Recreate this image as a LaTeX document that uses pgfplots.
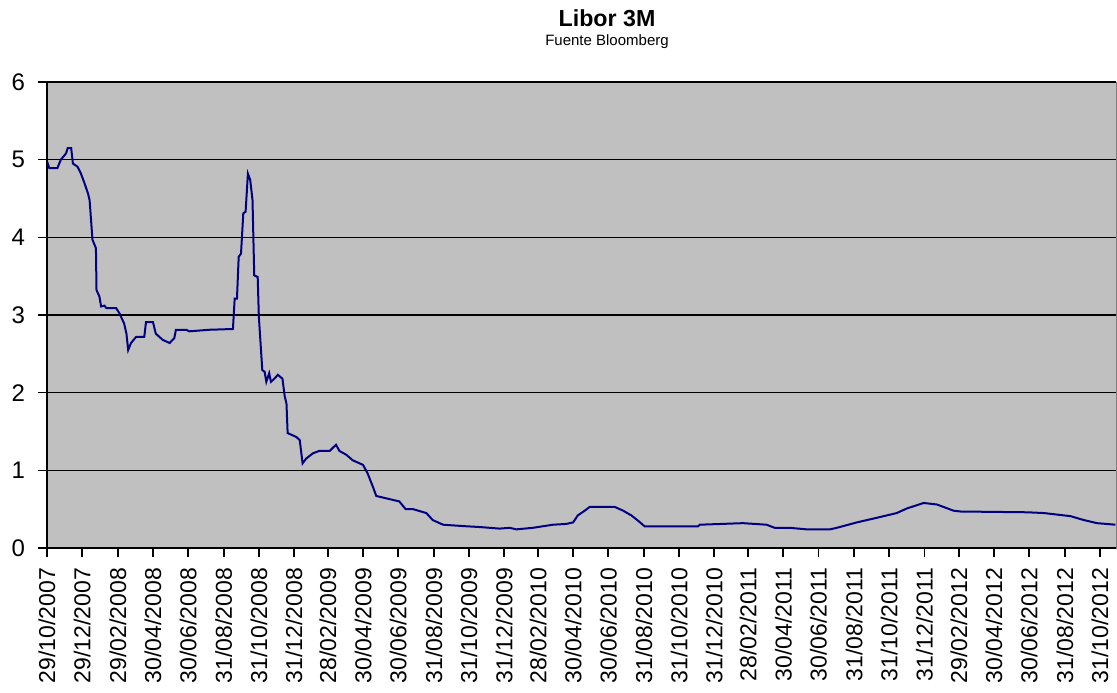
\documentclass[border=0pt]{standalone}
\usepackage{fontspec}
\setmainfont{Liberation Sans}
\usepackage{pgfplots}
\pgfplotsset{compat=1.18}
\definecolor{plotgray}{HTML}{C0C0C0}
\definecolor{navy}{HTML}{000080}
\begin{document}
\begin{tikzpicture}
\begin{axis}[
    scale only axis,
    width=534.5pt, height=233pt,
    xmin=0, xmax=1857,
    ymin=0, ymax=6,
    ytick={0,1,2,3,4,5,6},
    xtick={0,61,123,184,245,307,368,429,488,549,610,672,733,794,853,914,975,1037,1098,1159,1218,1279,1340,1402,1463,1524,1584,1645,1706,1768,1829},
    xticklabels={29/10/2007,29/12/2007,29/02/2008,30/04/2008,30/06/2008,31/08/2008,31/10/2008,31/12/2008,28/02/2009,30/04/2009,30/06/2009,31/08/2009,31/10/2009,31/12/2009,28/02/2010,30/04/2010,30/06/2010,31/08/2010,31/10/2010,31/12/2010,28/02/2011,30/04/2011,30/06/2011,31/08/2011,31/10/2011,31/12/2011,29/02/2012,30/04/2012,30/06/2012,31/08/2012,31/10/2012},
    xticklabel style={rotate=90, anchor=east, font=\fontsize{11.5}{12}\selectfont},
    xticklabel shift=2pt,
    yticklabel style={font=\fontsize{12}{13}\selectfont, xshift=-3pt},
    /pgf/number format/assume math mode=true,
    axis lines*=left,
    axis line style={black, line width=0.8pt, -},
    x axis line style={line width=1.3pt},
    axis background/.style={fill=plotgray, draw=gray},
    ymajorgrids,
    grid style={black, line width=0.6pt},
    tick align=outside,
    major tick length=4.5pt,
    tick style={black, line width=0.8pt},
]
\addplot[color=navy, line width=1pt] coordinates {
(0,4.98) (4,4.89) (18,4.89) (24,5.00) (33,5.08) (36,5.15) (42,5.15) (45,4.95)
(53,4.91) (59,4.82) (65,4.70) (71,4.57) (74,4.48) (79,3.97) (85,3.86) (86,3.32)
(91,3.24) (94,3.11) (100,3.12) (103,3.09) (120,3.09) (126,3.02) (134,2.89) (138,2.76)
(141,2.55) (146,2.64) (155,2.72) (169,2.72) (172,2.91) (184,2.91) (189,2.76) (201,2.68)
(213,2.64) (221,2.70) (224,2.81) (242,2.81) (247,2.79) (282,2.81) (323,2.82) (326,3.21)
(330,3.21) (333,3.75) (337,3.79) (341,4.31) (345,4.33) (349,4.82) (353,4.74) (357,4.48)
(360,3.51) (366,3.49) (368,2.98) (374,2.29) (378,2.27) (381,2.14) (386,2.25) (389,2.14)
(395,2.18) (401,2.23) (409,2.18) (413,1.95) (416,1.86) (418,1.48) (433,1.43) (439,1.39)
(444,1.09) (450,1.15) (462,1.22) (473,1.25) (491,1.25) (502,1.33) (508,1.25) (520,1.20)
(531,1.13) (549,1.07) (557,0.96) (566,0.79) (572,0.67) (589,0.64) (612,0.60) (623,0.50)
(636,0.50) (659,0.45) (670,0.36) (688,0.30) (728,0.28) (752,0.27) (786,0.25) (804,0.26)
(815,0.24) (844,0.26) (879,0.30) (902,0.31) (914,0.33) (922,0.42) (934,0.48) (943,0.53)
(986,0.53) (1001,0.48) (1015,0.42) (1027,0.35) (1038,0.28) (1131,0.28) (1134,0.30) (1209,0.32)
(1250,0.30) (1264,0.26) (1290,0.26) (1320,0.24) (1360,0.24) (1372,0.26) (1407,0.33) (1442,0.39)
(1476,0.45) (1494,0.51) (1523,0.58) (1546,0.56) (1575,0.48) (1587,0.47) (1703,0.46) (1732,0.45)
(1778,0.41) (1801,0.36) (1824,0.32) (1856,0.30)
};
\end{axis}
\node[font=\bfseries\fontsize{11.6}{13}\selectfont] at (280pt,265pt) {Libor 3M};
\node[font=\fontsize{7.5}{9}\selectfont] at (280pt,253pt) {Fuente Bloomberg};
\pgfresetboundingbox
\useasboundingbox (-23.5pt,-72pt) rectangle (535pt,274pt);
\end{tikzpicture}
\end{document}
